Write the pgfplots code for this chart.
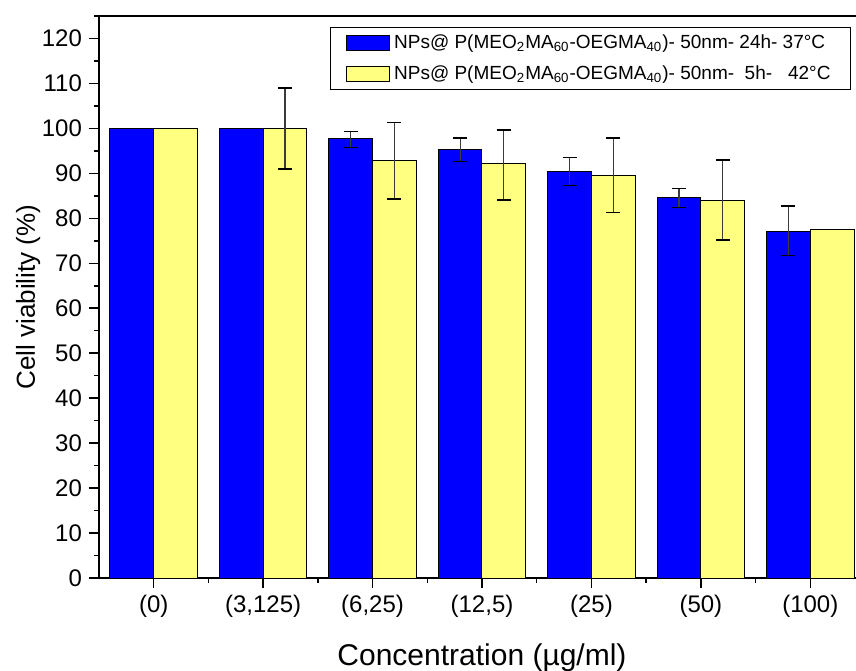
\documentclass[border=0pt]{standalone}
\usepackage{fontspec}
\setmainfont{Liberation Sans}
\usepackage{pgfplots}
\pgfplotsset{compat=1.18}
\definecolor{myblue}{RGB}{0,0,255}
\definecolor{myyellow}{RGB}{255,255,128}
\definecolor{errgray}{RGB}{60,60,60}
\begin{document}
\begin{tikzpicture}
\useasboundingbox (-49.5pt,-46pt) rectangle (378.5pt,289pt);
\begin{axis}[
  at={(0,0)}, anchor=south west,
  scale only axis, width=383pt, height=281pt,
  xmin=-0.5, xmax=6.5, ymin=0, ymax=125,
  xtick={0,...,6},
  xticklabels={(0),{(3,125)},{(6,25)},{(12,5)},(25),(50),(100)},
  minor xtick={0.5,1.5,...,5.5},
  ytick={0,10,...,120}, minor ytick={5,15,...,125},
  tick align=outside, major tick length=5pt, minor tick length=2.5pt,
  xtick pos=lower, ytick pos=left,
  axis line style={line width=1pt},
  every tick/.style={black, line width=0.75pt},
  /pgf/number format/assume math mode=true,
  tick label style={font=\fontsize{12}{14}\selectfont},
  xlabel={Concentration (µg/ml)},
  ylabel={Cell viability (\%)},
  xlabel style={font=\fontsize{15}{17}\selectfont},
  ylabel style={font=\fontsize{13}{15}\selectfont},
  xlabel shift=6.5pt,
  ylabel shift=-6pt,
  legend style={at={(1,1)}, anchor=north east, xshift=-7pt, yshift=-5.5pt,
    font=\fontsize{9.5}{11}\selectfont, draw=black, line width=0.5pt,
    inner xsep=8pt, inner ysep=1.5pt, row sep=3pt},
  legend cell align=left,
]
\addplot[ybar, bar width=0.4, bar shift=-0.2, fill=myblue, draw=black, line width=0.5pt,
  legend image code/.code={\draw[fill=myblue, draw=black, line width=0.5pt] (0pt,-3.75pt) rectangle (21.5pt,3.75pt);}]
  coordinates {(0,100) (1,100) (2,97.7) (3,95.2) (4,90.5) (5,84.6) (6,77.0)};
\addlegendentry{NPs@ P(MEO\textsubscript{2}MA\textsubscript{60}-OEGMA\textsubscript{40})- 50nm- 24h- 37°C\hspace{13pt}}
\addplot[ybar, bar width=0.4, bar shift=0.2, fill=myyellow, draw=black, line width=0.5pt,
  legend image code/.code={\draw[fill=myyellow, draw=black, line width=0.5pt] (0pt,-3.75pt) rectangle (21.5pt,3.75pt);}]
  coordinates {(0,100) (1,100) (2,92.8) (3,92.1) (4,89.5) (5,83.9) (6,77.6)};
\addlegendentry{NPs@ P(MEO\textsubscript{2}MA\textsubscript{60}-OEGMA\textsubscript{40})- 50nm-\ \ 5h-\ \ \ 42°C\hspace{10pt}}
% error bars
\addplot[forget plot, draw=none, mark=none,
  error bars/.cd, y dir=both, y explicit,
  error bar style={draw=errgray, line width=0.6pt},
  error mark options={draw=black, rotate=90, mark size=3.5pt, line width=0.7pt}]
  coordinates {(1.8,97.55) +- (0,1.8) (2.8,95.25) +- (0,2.65) (3.8,90.4) +- (0,3.1) (4.8,84.5) +- (0,2.1) (5.8,77.2) +- (0,5.5)};
\addplot[forget plot, draw=none, mark=none,
  error bars/.cd, y dir=both, y explicit,
  error bar style={draw=errgray, line width=0.6pt},
  error mark options={draw=black, rotate=90, mark size=3.5pt, line width=0.7pt}]
  coordinates {(1.2,100) +- (0,9) (2.2,92.8) +- (0,8.5) (3.2,91.85) +- (0,7.75) (4.2,89.6) +- (0,8.3) (5.2,84.1) +- (0,8.9)};
\end{axis}
\end{tikzpicture}
\end{document}
